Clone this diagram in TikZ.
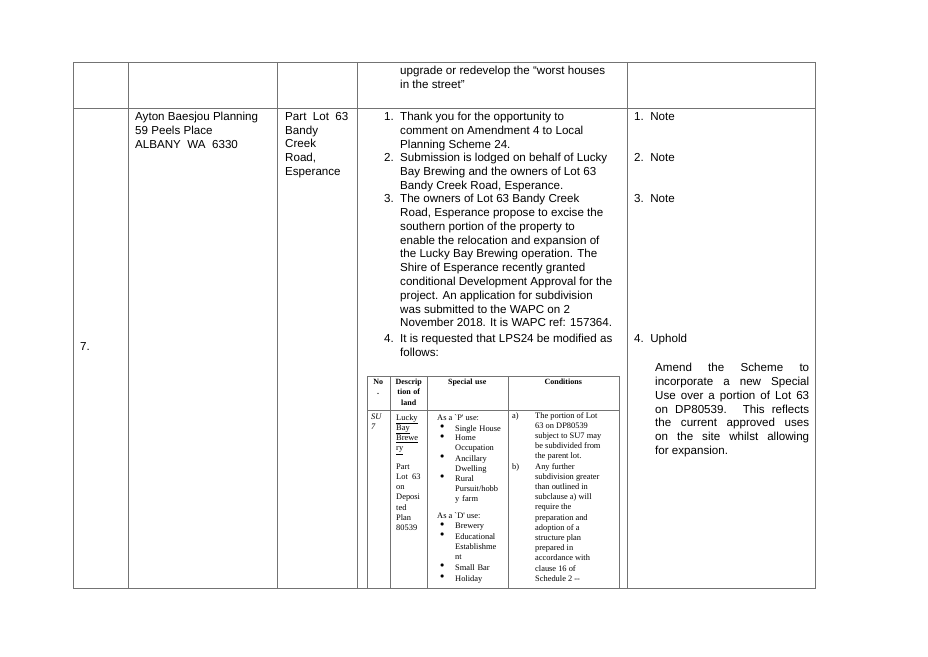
\documentclass[tikz,border=0pt]{standalone}
\usepackage{fontspec}
\setmainfont{Liberation Sans}
\newfontfamily\timesfont{Liberation Serif}
\usetikzlibrary{positioning}
\tikzset{
    rule/.style={draw=black!55, line width=0.9pt},
    txt/.style={anchor=north west, inner sep=0pt, align=left, font=\fontsize{11.6}{13.8}\selectfont},
    small/.style={anchor=north west, inner sep=0pt, align=left, font=\timesfont\fontsize{8.4}{10.2}\selectfont},
    bul/.style={small, text width=60pt}
}
\newcommand{\dotb}{$\bullet$}
\begin{document}
\begin{tikzpicture}[x=1pt, y=-1pt]
    \useasboundingbox (0,0) rectangle (928,656);
    % outer table
    \draw[rule] (73,62) rectangle (815,588);
    \draw[rule] (73,108) -- (815,108);
    \foreach \xx in {128, 277, 357, 627}
        \draw[rule] (\xx,62) -- (\xx,588);

    % row one
    \node[txt] (worst) at (400,66) {upgrade or redevelop the “worst houses\\in the street”};

    % row two
    \node[txt] (num) at (80,342) {7.};
    \node[txt] (submitter) at (135,112) {Ayton Baesjou Planning\\59 Peels Place\\ALBANY\ \ WA\ \ 6330};
    \node[txt] (property) at (285,112) {Part\ \ Lot\ \ 63\\Bandy\\Creek\\Road,\\Esperance};

    \node[txt] (n1) at (384,112) {1.};
    \node[txt] (s1) at (400,112) {Thank you for the opportunity to\\comment on Amendment 4 to Local\\Planning Scheme 24.};
    \node[txt] (n2) at (384,153) {2.};
    \node[txt] (s2) at (400,153) {Submission is lodged on behalf of Lucky\\Bay Brewing and the owners of Lot 63\\Bandy Creek Road, Esperance.};
    \node[txt] (n3) at (384,194) {3.};
    \node[txt] (s3) at (400,194) {The owners of Lot 63 Bandy Creek\\Road, Esperance propose to excise the\\southern portion of the property to\\enable the relocation and expansion of\\the Lucky Bay Brewing operation. The\\Shire of Esperance recently granted\\conditional Development Approval for the\\project. An application for subdivision\\was submitted to the WAPC on 2\\November 2018. It is WAPC ref: 157364.};
    \node[txt] (n4) at (384,334) {4.};
    \node[txt] (s4) at (400,334) {It is requested that LPS24 be modified as\\follows:};

    % recommendation column
    \node[txt] (r1) at (634,112) {1.\ \ Note};
    \node[txt] (r2) at (634,153) {2.\ \ Note};
    \node[txt] (r3) at (634,194) {3.\ \ Note};
    \node[txt] (r4) at (634,334) {4.\ \ Uphold};
    \node[txt, text width=154pt, align=justify] (amend) at (655,363) {Amend the Scheme to\linebreak incorporate a new Special\linebreak Use over a portion of Lot 63\linebreak on DP80539. This reflects\linebreak the current approved uses\linebreak on the site whilst allowing\linebreak for expansion.};

    % inner table
    \draw[rule, line width=0.7pt] (367,376) rectangle (619,588);
    \draw[rule, line width=0.7pt] (367,410) -- (619,410);
    \foreach \xx in {390, 427, 508}
        \draw[rule, line width=0.7pt] (\xx,376) -- (\xx,588);
    \node[small, font=\timesfont\bfseries\fontsize{8}{10.2}\selectfont, align=center, text width=20pt] (hno) at (368,379) {No\\.};
    \node[small, font=\timesfont\bfseries\fontsize{8}{10.2}\selectfont, align=center, text width=35pt] (hdesc) at (391,379) {Descrip\\tion of\\land};
    \node[small, font=\timesfont\bfseries\fontsize{8}{10.2}\selectfont, align=center, text width=80pt] (huse) at (427,379) {Special use};
    \node[small, font=\timesfont\bfseries\fontsize{8}{10.2}\selectfont, align=center, text width=110pt] (hcond) at (508,379) {Conditions};

    \node[small] (su) at (371,414) {\textit{SU}\\\textit{7}};
    \node[small] (desc) at (396,414) {\underline{Lucky}\\\underline{Bay}\\\underline{Brewe}\\\underline{ry}\\[1em]Part\\Lot\ \ 63\\on\\Deposi\\ted\\Plan\\80539};
    \node[small] (puse) at (437,414) {As a `P' use:};
    \node[small] (b1) at (440,425) {\dotb};
    \node[bul] (u1) at (455,425) {Single House};
    \node[small] (b2) at (440,435) {\dotb};
    \node[bul] (u2) at (455,435) {Home\\Occupation};
    \node[small] (b3) at (440,455) {\dotb};
    \node[bul] (u3) at (455,455) {Ancillary\\Dwelling};
    \node[small] (b4) at (440,475) {\dotb};
    \node[bul] (u4) at (455,475) {Rural\\Pursuit/hobb\\y farm};
    \node[small] (duse) at (437,512) {As a `D' use:};
    \node[small] (b5) at (440,523) {\dotb};
    \node[bul] (u5) at (455,523) {Brewery};
    \node[small] (b6) at (440,533) {\dotb};
    \node[bul] (u6) at (455,533) {Educational\\Establishme\\nt};
    \node[small] (b7) at (440,564) {\dotb};
    \node[bul] (u7) at (455,564) {Small Bar};
    \node[small] (b8) at (440,575) {\dotb};
    \node[bul] (u8) at (455,575) {Holiday};

    \node[small] (ca) at (512,412) {a)};
    \node[small] (cond1) at (535,412) {The portion of Lot\\63 on DP80539\\subject to SU7 may\\be subdivided from\\the parent lot.};
    \node[small] (cb) at (512,463) {b)};
    \node[small] (cond2) at (535,463) {Any further\\subdivision greater\\than outlined in\\subclause a) will\\require the\\preparation and\\adoption of a\\structure plan\\prepared in\\accordance with\\clause 16 of\\Schedule 2 --};
\end{tikzpicture}
\end{document}
